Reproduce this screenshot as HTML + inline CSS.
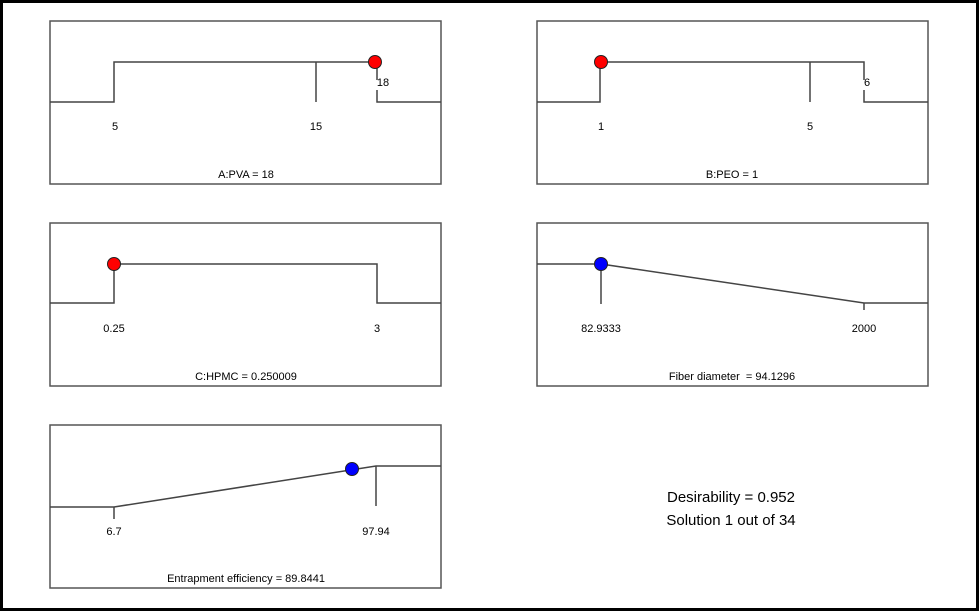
<!DOCTYPE html>
<html><head><meta charset="utf-8"><style>
html,body{margin:0;padding:0;background:#fff;}
svg{display:block;}
text{font-family:"Liberation Sans",sans-serif;font-size:11px;fill:#000;}
.big{font-size:15px;}
</style></head><body>
<svg width="979" height="611" viewBox="0 0 979 611" xmlns="http://www.w3.org/2000/svg">
<rect x="1.5" y="1.5" width="976" height="608" fill="#fff" stroke="#000" stroke-width="3"/>
<g fill="none" stroke="#555" stroke-width="1.5">
<!-- panel boxes -->
<rect x="50" y="21" width="391" height="163"/>
<rect x="537" y="21" width="391" height="163"/>
<rect x="50" y="223" width="391" height="163"/>
<rect x="537" y="223" width="391" height="163"/>
<rect x="50" y="425" width="391" height="163"/>
</g>
<g fill="none" stroke="#444" stroke-width="1.5">
<!-- A:PVA -->
<polyline points="50,102 114,102 114,62 377,62 377,80"/>
<polyline points="377,90 377,102 441,102"/>
<line x1="316" y1="62" x2="316" y2="102"/>
<!-- B:PEO -->
<polyline points="537,102 600,102 600,62 864,62 864,80"/>
<polyline points="864,90 864,102 928,102"/>
<line x1="810" y1="62" x2="810" y2="102"/>
<!-- C:HPMC -->
<polyline points="50,303 114,303 114,264 377,264 377,303 441,303"/>
<!-- Fiber diameter -->
<polyline points="537,264 601,264 864,303 928,303"/>
<line x1="601" y1="264" x2="601" y2="304"/>
<line x1="864" y1="303" x2="864" y2="310"/>
<!-- Entrapment -->
<polyline points="50,507 114,507 376,466 441,466"/>
<line x1="114" y1="507" x2="114" y2="519"/>
<line x1="376" y1="466" x2="376" y2="506"/>
</g>
<g stroke="#222" stroke-width="1">
<circle cx="375" cy="62" r="6.5" fill="#ff0000"/>
<circle cx="601" cy="62" r="6.5" fill="#ff0000"/>
<circle cx="114" cy="264" r="6.5" fill="#ff0000"/>
<circle cx="601" cy="264" r="6.5" fill="#0000ff"/>
<circle cx="352" cy="469" r="6.5" fill="#0000ff"/>
</g>
<g text-anchor="middle">
<text x="115" y="130">5</text>
<text x="316" y="130">15</text>
<text x="383" y="86">18</text>
<text x="246" y="178">A:PVA = 18</text>
<text x="601" y="130">1</text>
<text x="810" y="130">5</text>
<text x="867" y="86">6</text>
<text x="732" y="178">B:PEO = 1</text>
<text x="114" y="332">0.25</text>
<text x="377" y="332">3</text>
<text x="246" y="380">C:HPMC = 0.250009</text>
<text x="601" y="332">82.9333</text>
<text x="864" y="332">2000</text>
<text x="732" y="380">Fiber diameter &#160;= 94.1296</text>
<text x="114" y="535">6.7</text>
<text x="376" y="535">97.94</text>
<text x="246" y="582">Entrapment efficiency = 89.8441</text>
<text class="big" x="731" y="502">Desirability = 0.952</text>
<text class="big" x="731" y="525">Solution 1 out of 34</text>
</g>
</svg>
</body></html>
